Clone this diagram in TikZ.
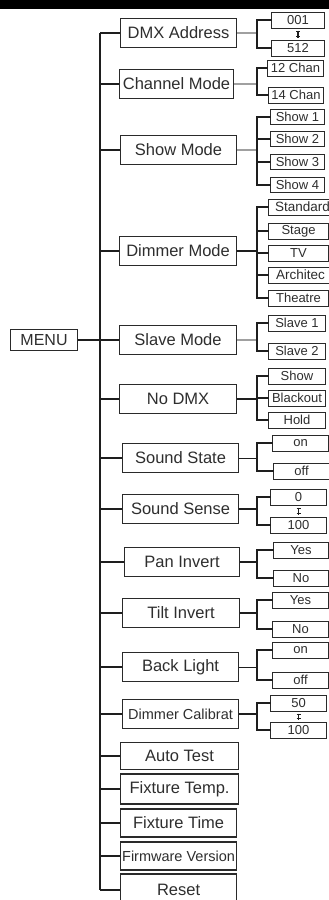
\documentclass[tikz,border=0pt]{standalone}
\usepackage{fontspec}
\setmainfont{Liberation Sans}
\definecolor{boxc}{HTML}{2A2A2A}
\definecolor{txtc}{HTML}{2E2E2E}
\definecolor{lnc}{HTML}{1E1E1E}
\definecolor{grayln}{HTML}{A0A0A0}
\begin{document}
\begin{tikzpicture}[x=1pt,y=-1pt,
  mbox/.style={draw=boxc, line width=1.1pt, minimum height=29pt, inner sep=0pt,
    font=\fontsize{16.5}{18}\selectfont, text=txtc, anchor=west},
  sbox/.style={draw=boxc, line width=1pt, minimum height=16pt, minimum width=54pt, inner sep=0pt,
    font=\fontsize{13}{14}\selectfont, text=txtc, anchor=west},
  trunk/.style={draw=lnc, line width=1.1pt},
  stub/.style={draw=lnc, line width=1.9pt},
  brk/.style={draw=lnc, line width=1.9pt, line cap=rect},
  grayc/.style={draw=grayln, line width=1.8pt},
  thinc/.style={draw=lnc, line width=0.9pt},
  rng/.style={draw=lnc, line width=1.6pt}]
\useasboundingbox (0,0) rectangle (329,900);
\fill[white] (0,0) rectangle (329,900);
\fill[black] (0,0) rectangle (329,9);

\coordinate (tx) at (100,0);
\coordinate (bx) at (257,0);

% menu
\node[mbox, minimum width=67pt, minimum height=21pt, font=\fontsize{16}{18}\selectfont] (menu) at (10,340) {MENU};

% middle boxes
\node[mbox, minimum width=116pt] (dmx) at (120,33) {DMX Address};
\node[mbox, minimum width=114pt] (chan) at (119,84) {Channel Mode};
\node[mbox, minimum width=116pt] (show) at (120,150) {Show Mode};
\node[mbox, minimum width=117pt] (dim) at (119,251) {Dimmer Mode};
\node[mbox, minimum width=117pt] (slave) at (119,340) {Slave Mode};
\node[mbox, minimum width=117pt] (nodmx) at (119,399) {No DMX};
\node[mbox, minimum width=116pt] (sstate) at (122,458) {Sound State};
\node[mbox, minimum width=116pt] (ssense) at (122,509) {Sound Sense};
\node[mbox, minimum width=115pt] (pan) at (124,562) {Pan Invert};
\node[mbox, minimum width=117pt] (tilt) at (122,613) {Tilt Invert};
\node[mbox, minimum width=116pt] (back) at (122,667) {Back Light};
\node[mbox, minimum width=116pt, font=\fontsize{14.5}{16}\selectfont] (dcal) at (122,714) {Dimmer Calibrat};
\node[mbox, minimum width=118pt, minimum height=27pt] (auto) at (120,756) {Auto Test};
\node[mbox, minimum width=118pt, minimum height=30pt] (ftemp) at (120,789) {Fixture Temp.};
\node[mbox, minimum width=116pt, minimum height=28pt] (ftime) at (120,823) {Fixture Time};
\node[mbox, minimum width=116pt, minimum height=28pt, font=\fontsize{14.5}{16}\selectfont] (firm) at (120,856) {Firmware Version};
\node[mbox, minimum width=116pt, minimum height=32pt] (reset) at (120,890) {Reset};

% trunk
\draw[trunk] (dmx.west -| tx) -- (reset.west -| tx);
\draw[stub] (menu.east) -- (menu.east -| tx);
\foreach \n in {dmx,chan,show,dim,slave,nodmx,sstate,ssense,pan,tilt,back,dcal,auto,ftemp,ftime,firm,reset}
  \draw[stub] (\n.west -| tx) -- (\n.west);

% sub boxes
\node[sbox, minimum width=53pt] (a001) at (271,20) {001};
\node[sbox, minimum width=53pt] (a512) at (271,48) {512};
\node[sbox, minimum width=56pt] (c12) at (267,68) {12 Chan};
\node[sbox, minimum width=55pt] (c14) at (268,95) {14 Chan};
\node[sbox, minimum height=15pt] (s1) at (270,117) {Show 1};
\node[sbox, minimum height=15pt] (s2) at (270,139) {Show 2};
\node[sbox, minimum height=15pt] (s3) at (270,162) {Show 3};
\node[sbox, minimum height=15pt] (s4) at (270,185) {Show 4};
\node[sbox, minimum width=68pt, font=\fontsize{13.5}{14}\selectfont] (dstd) at (268,207) {Standard};
\node[sbox, minimum width=60pt] (dstage) at (268,231) {Stage};
\node[sbox, minimum width=60pt] (dtv) at (268,253) {TV};
\node[sbox, minimum width=64pt, font=\fontsize{13.5}{14}\selectfont] (darch) at (268,275) {Architec};
\node[sbox, minimum width=60pt] (dthe) at (268,298) {Theatre};
\node[sbox, minimum width=57pt] (sl1) at (268,323) {Slave 1};
\node[sbox, minimum width=57pt] (sl2) at (268,351) {Slave 2};
\node[sbox, minimum width=57pt] (nshow) at (268,376) {Show};
\node[sbox, minimum width=57pt] (nblack) at (268,398) {Blackout};
\node[sbox, minimum width=57pt] (nhold) at (268,420) {Hold};
\node[sbox, minimum width=56pt] (son) at (272,443) {on};
\node[sbox, minimum width=56pt] (soff) at (273,471) {off};
\node[sbox, minimum width=56pt] (z0) at (270,497) {0};
\node[sbox, minimum width=56pt] (z100) at (270,525) {100};
\node[sbox, minimum width=55pt] (pyes) at (273,550) {Yes};
\node[sbox, minimum width=55pt] (pno) at (273,578) {No};
\node[sbox, minimum width=56pt] (tyes) at (272,600) {Yes};
\node[sbox, minimum width=56pt] (tno) at (272,629) {No};
\node[sbox, minimum width=56pt] (bon) at (272,650) {on};
\node[sbox, minimum width=56pt] (boff) at (272,680) {off};
\node[sbox, minimum width=56pt] (c50) at (270,703) {50};
\node[sbox, minimum width=56pt] (c100) at (270,730) {100};

% connectors to brackets
\draw[grayc] (dmx.east) -- (dmx.east -| bx);
\draw[grayc] (chan.east) -- (chan.east -| bx);
\draw[grayc] (show.east) -- (show.east -| bx);
\draw[stub] (dim.east) -- (dim.east -| bx);
\draw[grayc] (slave.east) -- (slave.east -| bx);
\draw[stub] (nodmx.east) -- (nodmx.east -| bx);
\draw[thinc] (sstate.east) -- (sstate.east -| bx);
\draw[stub] (ssense.east) -- (ssense.east -| bx);
\draw[stub] (pan.east) -- (pan.east -| bx);
\draw[stub] (tilt.east) -- (tilt.east -| bx);
\draw[thinc] (back.east) -- (back.east -| bx);
\draw[stub] (dcal.east) -- (dcal.east -| bx);

% brackets
\draw[brk] (a001.west) -- (a001.west -| bx) -- (a512.west -| bx) -- (a512.west);
\draw[brk] (c12.west) -- (c12.west -| bx) -- (c14.west -| bx) -- (c14.west);
\draw[brk] (s1.west) -- (s1.west -| bx) -- (s4.west -| bx) -- (s4.west);
\draw[brk] (s2.west -| bx) -- (s2.west);
\draw[brk] (s3.west -| bx) -- (s3.west);
\draw[brk] (dstd.west) -- (dstd.west -| bx) -- (dthe.west -| bx) -- (dthe.west);
\draw[brk] (dstage.west -| bx) -- (dstage.west);
\draw[brk] (dtv.west -| bx) -- (dtv.west);
\draw[brk] (darch.west -| bx) -- (darch.west);
\draw[brk] (sl1.west) -- (sl1.west -| bx) -- (sl2.west -| bx) -- (sl2.west);
\draw[brk] (nshow.west) -- (nshow.west -| bx) -- (nhold.west -| bx) -- (nhold.west);
\draw[brk] (nblack.west -| bx) -- (nblack.west);
\draw[brk] (son.west) -- (son.west -| bx) -- (soff.west -| bx) -- (soff.west);
\draw[brk] (z0.west) -- (z0.west -| bx) -- (z100.west -| bx) -- (z100.west);
\draw[brk] (pyes.west) -- (pyes.west -| bx) -- (pno.west -| bx) -- (pno.west);
\draw[brk] (tyes.west) -- (tyes.west -| bx) -- (tno.west -| bx) -- (tno.west);
\draw[brk] (bon.west) -- (bon.west -| bx) -- (boff.west -| bx) -- (boff.west);
\draw[brk] (c50.west) -- (c50.west -| bx) -- (c100.west -| bx) -- (c100.west);

% range markers
\foreach \a/\b in {a001/a512, z0/z100, c50/c100} {
  \draw[rng] ([yshift=-2pt]\a.south) -- ([yshift=2pt]\b.north);
  \draw[thinc] ([xshift=-2pt,yshift=-3pt]\a.south) -- ([xshift=2pt,yshift=-3pt]\a.south);
  \draw[thinc] ([xshift=-2pt,yshift=3pt]\b.north) -- ([xshift=2pt,yshift=3pt]\b.north);
}
\end{tikzpicture}
\end{document}
